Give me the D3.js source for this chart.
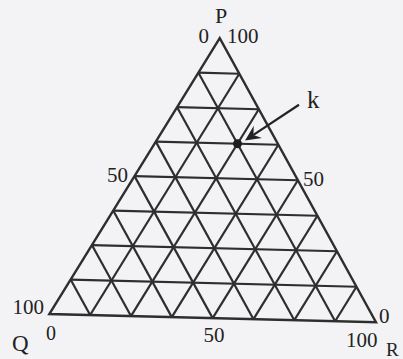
<!DOCTYPE html>
<html>
<head>
<meta charset="utf-8">
<script src="https://cdn.jsdelivr.net/npm/d3@7"></script>
<style>
  html, body { margin: 0; padding: 0; background: #f3f3f5; }
  svg { display: block; }
  text { font-family: "Liberation Serif", "DejaVu Serif", serif; fill: #222; }
</style>
</head>
<body>
<div id="chart"></div>
<script>
// ternary grid: P at top, Q bottom-left, R bottom-right
var gridSteps = [12.5, 25, 37.5, 50, 62.5, 75, 87.5];
var cornerNames = ["P", "Q", "R"];
var pointK = { name: "k", P: 62.5, Q: 12.5, R: 25 };

// axis tick labels
var leftTicks = ["0", "50", "100"];   // Q axis, apex -> Q
var rightTicks = ["100", "50", "0"];  // P axis, apex -> R
var bottomTicks = ["0", "50", "100"]; // R axis, Q -> R

var width = 403, height = 359;
var side = 326.8, triHeight = 280;

var svg = d3
  .select("#chart")
  .append("svg")
  .attr("width", width)
  .attr("height", height);

var x = d3.scaleLinear().domain([0, 100]).range([0, side]);
var y = d3.scaleLinear().domain([0, 100]).range([0, -triHeight]);

function toXY(p, r) {
  return [x(r) + x(p) / 2, y(p)];
}

// the scanned figure sits slightly tilted
var g = svg
  .append("g")
  .attr("transform", "translate(49.3,314) rotate(1.45)");

var lines = [];
gridSteps.forEach(function (v) {
  lines.push([toXY(v, 0), toXY(v, 100 - v)]);       // constant P
  lines.push([toXY(0, v), toXY(100 - v, v)]);       // constant R
  lines.push([toXY(0, 100 - v), toXY(100 - v, 0)]); // constant Q
});

g.selectAll(".grid")
  .data(lines)
  .enter()
  .append("line")
  .attr("class", "grid")
  .attr("x1", function (d) { return d[0][0]; })
  .attr("y1", function (d) { return d[0][1]; })
  .attr("x2", function (d) { return d[1][0]; })
  .attr("y2", function (d) { return d[1][1]; })
  .attr("stroke", "#2e2e2e")
  .attr("stroke-width", 2.2);

var corners = [toXY(100, 0), toXY(0, 0), toXY(0, 100)];
g.append("polygon")
  .attr("points", corners.map(function (c) { return c.join(","); }).join(" "))
  .attr("fill", "none")
  .attr("stroke", "#2e2e2e")
  .attr("stroke-width", 2.4)
  .attr("stroke-linejoin", "miter");

// point k with its arrow
var k = toXY(pointK.P, pointK.R);
g.append("circle")
  .attr("cx", k[0])
  .attr("cy", k[1])
  .attr("r", 4.5)
  .attr("fill", "#1e1e1e");

var tip = [k[0] + 7.5, k[1] - 3.5];
var tail = [tip[0] + 53, tip[1] - 37];
var ang = Math.atan2(tail[1] - tip[1], tail[0] - tip[0]);
function off(len, a) {
  return [tip[0] + len * Math.cos(ang + a), tip[1] + len * Math.sin(ang + a)];
}
g.append("line")
  .attr("x1", tail[0])
  .attr("y1", tail[1])
  .attr("x2", off(10, 0)[0])
  .attr("y2", off(10, 0)[1])
  .attr("stroke", "#222")
  .attr("stroke-width", 2.2);
g.append("path")
  .attr("d", "M" + tip + "L" + off(17, 0.45) + "L" + off(10, 0) + "L" + off(17, -0.45) + "Z")
  .attr("fill", "#222");

svg.append("text")
  .attr("x", 307)
  .attr("y", 108)
  .attr("font-size", 25)
  .text(pointK.name);

// labels
var labels = [
  { t: cornerNames[0], x: 221, y: 23, size: 22, anchor: "middle" },
  { t: cornerNames[1], x: 12, y: 351, size: 23, anchor: "start" },
  { t: cornerNames[2], x: 386, y: 356, size: 19, anchor: "start" },
  { t: leftTicks[0], x: 209, y: 43, size: 21, anchor: "end" },
  { t: leftTicks[1], x: 128, y: 182, size: 21, anchor: "end" },
  { t: leftTicks[2], x: 44, y: 314, size: 21, anchor: "end" },
  { t: rightTicks[0], x: 227, y: 43, size: 21, anchor: "start" },
  { t: rightTicks[1], x: 303, y: 186, size: 21, anchor: "start" },
  { t: rightTicks[2], x: 379, y: 323, size: 21, anchor: "start" },
  { t: bottomTicks[0], x: 46, y: 340, size: 20, anchor: "start" },
  { t: bottomTicks[1], x: 214, y: 342, size: 21, anchor: "middle" },
  { t: bottomTicks[2], x: 346, y: 347, size: 21, anchor: "start" }
];

svg.selectAll(".lbl")
  .data(labels)
  .enter()
  .append("text")
  .attr("class", "lbl")
  .attr("x", function (d) { return d.x; })
  .attr("y", function (d) { return d.y; })
  .attr("font-size", function (d) { return d.size; })
  .attr("text-anchor", function (d) { return d.anchor; })
  .text(function (d) { return d.t; });
</script>
</body>
</html>
